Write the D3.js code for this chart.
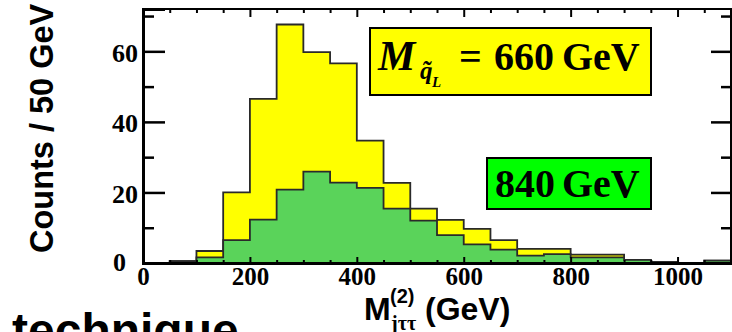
<!DOCTYPE html>
<html>
<head>
<meta charset="utf-8">
<script src="https://cdn.jsdelivr.net/npm/d3@7"></script>
<style>
  body { margin: 0; background: #fff; }
  svg { display: block; }
</style>
</head>
<body>
<div id="visualization"></div>
<script>
// bin edges, 50 GeV wide
const binEdges = d3.range(0, 1101, 50);
// counts per bin
const counts660 = [0, 0.5, 3.4, 20, 46.5, 67.6, 59.8, 56.6, 34.7, 22.7, 15.4, 12.2, 9.7, 6.5, 4.0, 4.0, 2.4, 2.4, 0.9, 0.3, 0, 0.7];
const counts840 = [0, 0.5, 1.6, 6.5, 12.3, 20.8, 25.9, 22.8, 21.3, 15.4, 12.0, 7.9, 5.3, 3.8, 2.1, 2.5, 1.6, 1.6, 0.9, 0.3, 0, 0.7];
const xTicks = [0, 200, 400, 600, 800, 1000];
const yTicks = [0, 20, 40, 60];
const yMinor = [10, 30, 50, 70];

const width = 732;
const height = 332;
const margin = {top: 9, right: 1, bottom: 69, left: 143};

const svg = d3.select("#visualization").append("svg")
  .attr("width", width)
  .attr("height", height);

const x = d3.scaleLinear([0, 1100], [margin.left, width - margin.right]);
const y = d3.scaleLinear([0, 72], [height - margin.bottom, margin.top]);

const serif = "'Liberation Serif', 'Times New Roman', serif";
const sans = "'Liberation Sans', Arial, sans-serif";

// histograms: yellow first, green overlaid
function hist(counts, fill) {
  const pts = counts.map((c, i) => [binEdges[i], c]);
  pts.push([binEdges[binEdges.length - 1], counts[counts.length - 1]]);
  const area = d3.area().x(d => x(d[0])).y0(y(0)).y1(d => y(d[1])).curve(d3.curveStepAfter);
  const line = d3.line().x(d => x(d[0])).y(d => y(d[1])).curve(d3.curveStepAfter);
  svg.append("path").attr("d", area(pts)).attr("fill", fill);
  svg.append("path").attr("d", line(pts))
    .attr("fill", "none")
    .attr("stroke", "#2a2a2a")
    .attr("stroke-width", 1.8);
}
hist(counts660, "#ffff00");
hist(counts840, "#5ad35a");

// frame
svg.append("rect")
  .attr("x", x(0)).attr("y", y(72))
  .attr("width", x(1100) - x(0)).attr("height", y(0) - y(72))
  .attr("fill", "none").attr("stroke", "#000").attr("stroke-width", 2);

// left axis, ticks inside
const gy = svg.append("g")
  .attr("transform", `translate(${x(0)},0)`)
  .call(d3.axisLeft(y).tickValues(yTicks).tickSize(-22).tickPadding(5));
gy.select(".domain").attr("stroke-width", 3);
gy.selectAll(".tick line").attr("stroke-width", 2.5);
gy.selectAll(".tick text")
  .style("font-family", serif).style("font-weight", "bold").style("font-size", "26px")
  .attr("fill", "#000").attr("dy", "0.38em");
gy.selectAll(".tick text").filter(d => d === 0)
  .attr("x", -17).attr("dy", "0.3em");

svg.append("g")
  .attr("transform", `translate(${x(0)},0)`)
  .call(d3.axisLeft(y).tickValues(yMinor).tickSize(-11).tickFormat(""))
  .call(g => g.select(".domain").remove())
  .selectAll(".tick line").attr("stroke-width", 2.5);

// right axis, ticks pointing left
svg.append("g")
  .attr("transform", `translate(${x(1100)},0)`)
  .call(d3.axisRight(y).tickValues([20, 40, 60]).tickSize(-20).tickFormat(""))
  .call(g => g.select(".domain").remove())
  .selectAll(".tick line").attr("stroke-width", 2.5);
svg.append("g")
  .attr("transform", `translate(${x(1100)},0)`)
  .call(d3.axisRight(y).tickValues(yMinor).tickSize(-10).tickFormat(""))
  .call(g => g.select(".domain").remove())
  .selectAll(".tick line").attr("stroke-width", 2.5);

// bottom axis
const gx = svg.append("g")
  .attr("transform", `translate(0,${y(0)})`)
  .call(d3.axisBottom(x).tickValues(xTicks).tickFormat(d3.format("d")).tickSize(-6).tickPadding(4));
gx.select(".domain").attr("stroke-width", 3);
gx.selectAll(".tick line").attr("stroke-width", 2);
gx.selectAll(".tick text")
  .style("font-family", serif).style("font-weight", "bold").style("font-size", "25px")
  .attr("fill", "#000");

const xMinor = d3.range(50, 1100, 50).filter(v => !xTicks.includes(v));
svg.append("g")
  .attr("transform", `translate(0,${y(0)})`)
  .call(d3.axisBottom(x).tickValues(xMinor).tickSize(-3).tickFormat(""))
  .call(g => g.select(".domain").remove())
  .selectAll(".tick line").attr("stroke-width", 2);

// top border ticks
svg.append("g")
  .attr("transform", `translate(0,${y(72)})`)
  .call(d3.axisTop(x).tickValues(xTicks.slice(1)).tickSize(-8).tickFormat(""))
  .call(g => g.select(".domain").remove())
  .selectAll(".tick line").attr("stroke-width", 2);
svg.append("g")
  .attr("transform", `translate(0,${y(72)})`)
  .call(d3.axisTop(x).tickValues(xMinor).tickSize(-4).tickFormat(""))
  .call(g => g.select(".domain").remove())
  .selectAll(".tick line").attr("stroke-width", 2);

// axis titles
svg.append("text")
  .attr("transform", "translate(53,253) rotate(-90)")
  .attr("font-family", sans).attr("font-weight", "bold").attr("font-size", 32.5)
  .text("Counts / 50 GeV");

const xt = svg.append("text")
  .attr("font-family", sans).attr("font-weight", "bold").attr("font-size", 32);
xt.append("tspan").attr("x", 364).attr("y", 320).text("M");
xt.append("tspan").attr("x", 390).attr("y", 303).attr("font-size", 20).text("(2)");
xt.append("tspan").attr("x", 391).attr("y", 330).attr("font-size", 20).attr("font-family", serif).text("jττ");
xt.append("tspan").attr("x", 425).attr("y", 320).text("(GeV)");

// legend boxes
svg.append("rect")
  .attr("x", 370).attr("y", 28).attr("width", 281).attr("height", 67)
  .attr("fill", "#ffff00").attr("stroke", "#000").attr("stroke-width", 2);
const l1 = svg.append("text")
  .attr("font-family", serif).attr("font-weight", "bold").attr("font-size", 40);
l1.append("tspan").attr("x", 378).attr("y", 70).attr("font-style", "italic").attr("font-size", 42).text("M");
l1.append("tspan").attr("x", 420).attr("y", 79).attr("font-style", "italic").attr("font-size", 25).text("q\u0303");
l1.append("tspan").attr("x", 432).attr("y", 87).attr("font-style", "italic").attr("font-size", 15).text("L");
l1.append("tspan").attr("x", 459).attr("y", 70).text("=");
l1.append("tspan").attr("x", 494).attr("y", 70).text("660");
l1.append("tspan").attr("x", 562).attr("y", 70).text("GeV");

svg.append("rect")
  .attr("x", 487).attr("y", 158).attr("width", 164).attr("height", 51)
  .attr("fill", "#00ff00").attr("stroke", "#000").attr("stroke-width", 2);
const l2 = svg.append("text")
  .attr("font-family", serif).attr("font-weight", "bold").attr("font-size", 40);
l2.append("tspan").attr("x", 495).attr("y", 197).text("840");
l2.append("tspan").attr("x", 562).attr("y", 197).text("GeV");

// slide text peeking in at the bottom
svg.append("text")
  .attr("x", 12).attr("y", 347)
  .attr("font-family", sans).attr("font-weight", "bold").attr("font-size", 48)
  .text("technique");
</script>
</body>
</html>
